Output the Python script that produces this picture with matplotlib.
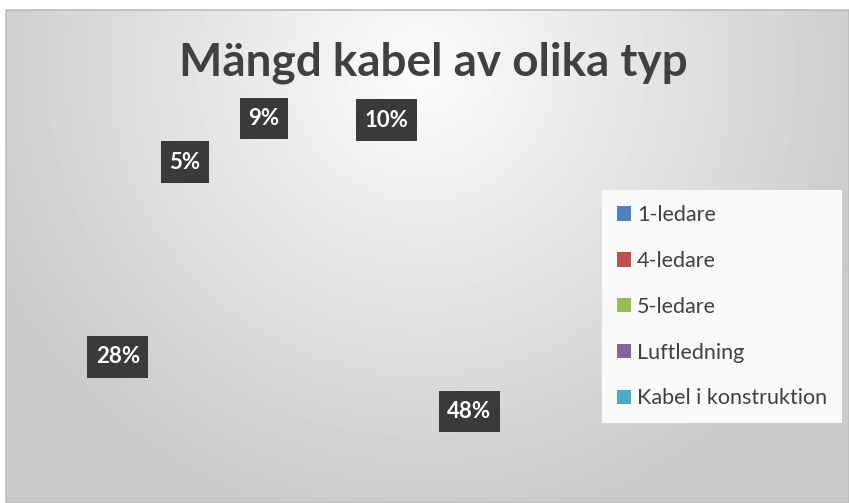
import numpy as np
import matplotlib
matplotlib.use('Agg')
import matplotlib.pyplot as plt
from matplotlib.patches import Patch, Rectangle

# data
categories = ['1-ledare', '4-ledare', '5-ledare', 'Luftledning', 'Kabel i konstruktion']
shares = [10, 48, 28, 5, 9]
colors = ['#4f81bd', '#c0504d', '#9bbb59', '#8064a2', '#4bacc6']
title = 'Mängd kabel av olika typ'

plt.rcParams['font.family'] = ['Lato', 'DejaVu Sans']
plt.rcParams['hatch.color'] = '#505050'
plt.rcParams['hatch.linewidth'] = 1.2

W, H = 849, 503
fig = plt.figure(figsize=(W / 100, H / 100), dpi=100)
fig.patch.set_facecolor('white')

# chart area with radial gradient
x0, y0 = 6, 10        # px from left / top
bg = fig.add_axes([x0 / W, 0, (W - x0) / W, (H - y0) / H])
yy, xx = np.mgrid[0:H - y0, 0:W - x0]
d = np.sqrt(((xx - 415) / 470.0) ** 2 + ((yy - 60) / 460.0) ** 2)
val = 252 - 50 * np.clip(d, 0, 1)
bg.imshow(val, cmap='gray', vmin=0, vmax=255, aspect='auto', interpolation='bilinear')
bg.set_axis_off()
fig.add_artist(Rectangle((x0 / W, 0), (W - x0) / W, (H - y0) / H, transform=fig.transFigure,
                         fill=False, edgecolor='#bdbdbd', linewidth=1.2))

# invisible pie, only labels are visible (as in the source chart)
cx, cy, rpx = 322, H - 318, 198
side = 260
ax = fig.add_axes([(cx - side) / W, (cy - side) / H, 2 * side / W, 2 * side / H])
wedges, autotexts = ax.pie(shares, startangle=90, counterclock=False, radius=1,
                           colors=['none'] * len(shares),
                           autopct='%d%%', pctdistance=1.05)[0::2]
ax.set_axis_off()
ax.set_aspect('auto')
ax.set_xlim(-side / rpx, side / rpx)
ax.set_ylim(-side / rpx, side / rpx)

big = int(np.argmax(shares))
for i, t in enumerate(autotexts):
    if i == big:
        px, py = t.get_position()
        t.set_position((px * 0.84, py * 0.84))
    t.set_color('white')
    t.set_fontsize(16)
    t.set_fontweight('bold')
    t.set_bbox(dict(boxstyle='square,pad=0.38', facecolor='#3a3a3a', edgecolor='#3a3a3a',
                    linewidth=0, hatch='..', mutation_aspect=1.22))

fig.text(433 / W, 1 - 75 / H, title, ha='center', va='baseline', fontsize=33,
         fontweight='bold', color='#404040')

handles = [Patch(facecolor=c, edgecolor='none') for c in colors]
leg = fig.legend(handles, categories, loc='upper left',
                 bbox_to_anchor=(602 / W, 1 - 190 / H), frameon=True,
                 fontsize=15.5, labelcolor='#404040', handlelength=0.65, handleheight=0.65,
                 handletextpad=0.28, labelspacing=1.2, borderpad=0.7, borderaxespad=0,
                 fancybox=False)
leg.get_frame().set_facecolor('#fafafa')
leg.get_frame().set_edgecolor('none')
leg.get_frame().set_alpha(1)

fig.savefig('out.png', dpi=100)
